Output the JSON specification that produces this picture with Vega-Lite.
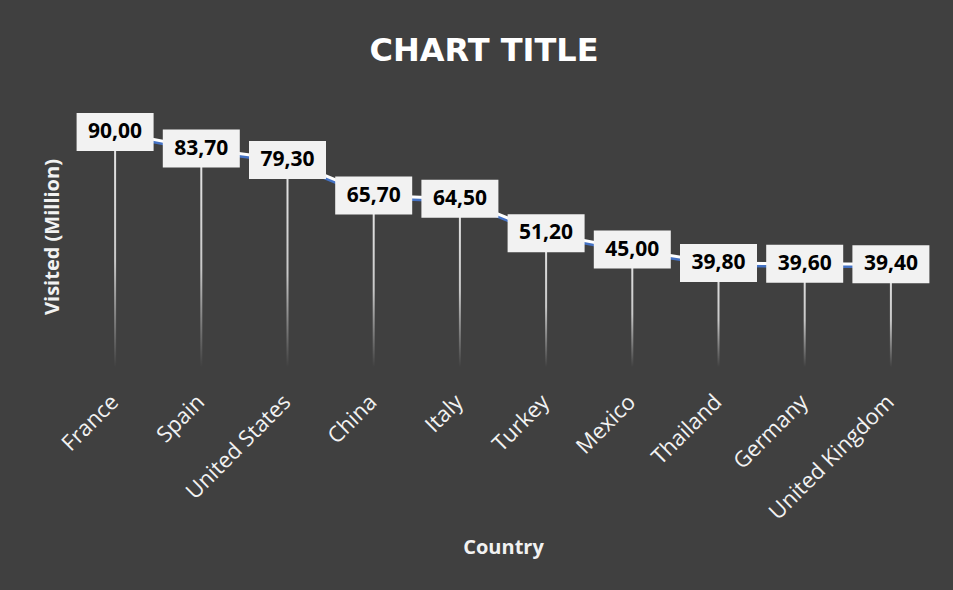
{
  "$schema": "https://vega.github.io/schema/vega-lite/v6.json",
  "width": 862,
  "height": 261,
  "autosize": "none",
  "padding": {"left": 72, "top": 106, "right": 19, "bottom": 223},
  "background": "#404040",
  "title": {
    "text": "CHART TITLE",
    "font": "DejaVu Sans",
    "fontSize": 32,
    "fontWeight": "bold",
    "color": "#ffffff",
    "anchor": "middle",
    "frame": "group",
    "baseline": "alphabetic",
    "offset": 13,
    "dx": -19
  },
  "config": {
    "view": {"stroke": null},
    "locale": {"number": {"decimal": ",", "thousands": ".", "grouping": [3], "currency": ["", " €"]}}
  },
  "data": {
    "values": [
      {"country": "France", "visited": 90.0},
      {"country": "Spain", "visited": 83.7},
      {"country": "United States", "visited": 79.3},
      {"country": "China", "visited": 65.7},
      {"country": "Italy", "visited": 64.5},
      {"country": "Turkey", "visited": 51.2},
      {"country": "Mexico", "visited": 45.0},
      {"country": "Thailand", "visited": 39.8},
      {"country": "Germany", "visited": 39.6},
      {"country": "United Kingdom", "visited": 39.4}
    ]
  },
  "encoding": {
    "x": {
      "field": "country",
      "type": "nominal",
      "sort": null,
      "scale": {"type": "point", "padding": 0.5},
      "axis": {
        "title": "Country",
        "labelAngle": -45,
        "labelFont": "Open Sans",
        "labelFontSize": 22,
        "labelColor": "#f2f2f2",
        "labelPadding": 24,
        "labelOffset": -8,
        "ticks": false,
        "domain": false,
        "grid": false,
        "titleFont": "Open Sans",
        "titleFontSize": 20,
        "titleFontWeight": "bold",
        "titleColor": "#f2f2f2",
        "titlePadding": 14
      }
    },
    "y": {
      "field": "visited",
      "type": "quantitative",
      "scale": {"domain": [0, 100], "nice": false, "zero": true},
      "axis": {
        "title": "Visited (Million)",
        "labels": false,
        "ticks": false,
        "domain": false,
        "grid": false,
        "minExtent": 0,
        "titleFont": "Open Sans",
        "titleFontSize": 20,
        "titleFontWeight": "bold",
        "titleColor": "#f2f2f2",
        "titlePadding": 10
      }
    }
  },
  "layer": [
    {
      "mark": {
        "type": "bar",
        "size": 2,
        "color": {
          "gradient": "linear",
          "x1": 0, "y1": 0, "x2": 0, "y2": 1,
          "stops": [
            {"offset": 0, "color": "#e8e8e8"},
            {"offset": 0.55, "color": "#c8c8c8"},
            {"offset": 1, "color": "#404040"}
          ]
        }
      }
    },
    {
      "mark": {"type": "line", "color": "#4472c4", "strokeWidth": 4, "yOffset": 2}
    },
    {
      "mark": {"type": "line", "color": "#ffffff", "strokeWidth": 3}
    },
    {
      "mark": {
        "type": "point",
        "shape": "M-1,-0.4935L1,-0.4935L1,0.4935L-1,0.4935Z",
        "size": 5929,
        "filled": true,
        "color": "#f2f2f2",
        "opacity": 1,
        "strokeWidth": 0
      }
    },
    {
      "mark": {
        "type": "text",
        "font": "Open Sans",
        "fontSize": 21,
        "fontWeight": "bold",
        "color": "#000000",
        "baseline": "middle",
        "align": "center"
      },
      "encoding": {
        "text": {"field": "visited", "type": "quantitative", "format": ".2f"}
      }
    }
  ]
}
